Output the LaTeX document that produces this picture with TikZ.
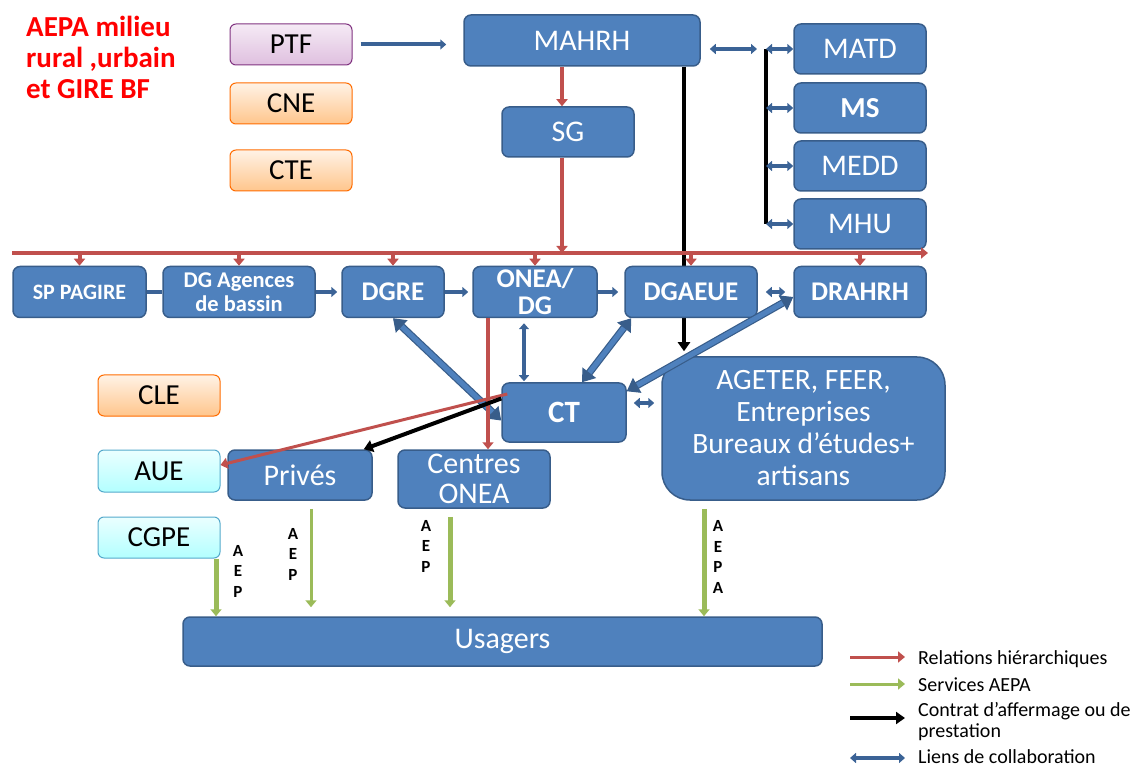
\documentclass[tikz,border=0pt]{standalone}
\usepackage{fontspec}
\setmainfont{Carlito}
\usetikzlibrary{arrows.meta}
\definecolor{boxblue}{HTML}{4F81BD}
\definecolor{boxline}{HTML}{385D8A}
\definecolor{hierred}{HTML}{C0504D}
\definecolor{aepagreen}{HTML}{9BBB59}
\definecolor{collabblue}{HTML}{3B6396}
\pgfdeclarelayer{background}
\pgfsetlayers{background,main}
\begin{document}
\begin{tikzpicture}[x=1pt,y=-1pt,
    sz/.style 2 args={minimum width=#1pt, minimum height=#2pt},
    box/.style={draw=boxline, fill=boxblue, line width=1.5pt, rounded corners=7pt, text=white,
        inner sep=0pt, align=center, font=\fontsize{30}{30}\selectfont},
    rowbox/.style={box, font=\fontsize{27}{27}\selectfont\bfseries},
    purplebox/.style={draw=violet!60!gray, line width=1pt, rounded corners=6pt, top color=violet!8,
        bottom color=violet!25, inner sep=0pt, font=\fontsize{29}{30}\selectfont},
    orangebox/.style={purplebox, draw=orange!85!red, top color=orange!10, bottom color=orange!45},
    cyanbox/.style={purplebox, draw=cyan!60!gray, top color=cyan!8, bottom color=cyan!30},
    hier/.style={draw=hierred, line width=4pt, -{Triangle[length=7pt,width=11pt]}},
    serv/.style={draw=aepagreen, line width=5pt, -{Triangle[length=7pt,width=11pt]}},
    contrat/.style={draw=black, line width=4pt, -{Triangle[length=9pt,width=12pt]}},
    collab/.style={draw=collabblue, line width=4pt, {Triangle[length=6pt,width=10pt]}-{Triangle[length=6pt,width=10pt]}},
    collabone/.style={draw=collabblue, line width=4pt, -{Triangle[length=6pt,width=10pt]}},
    bigcollab/.style={draw=boxline, double=boxblue, line width=1.2pt, double distance=5pt,
        {Triangle[length=12pt,width=17pt]}-{Triangle[length=12pt,width=17pt]}},
    aep/.style={align=center, inner sep=0pt, font=\fontsize{17}{20.5}\selectfont\bfseries},
    legtext/.style={anchor=west, align=left, inner sep=0pt, font=\fontsize{20}{21}\selectfont}]
    \useasboundingbox (0,0) rectangle (1133,767);

    % title
    \node[anchor=north west, align=left, inner sep=0pt, text=red,
        font=\fontsize{29}{31}\selectfont\bfseries] (title) at (26,16)
        {AEPA milieu\\rural ,urbain\\et GIRE BF};

    % top level
    \node[purplebox, sz={122}{41}] (ptf) at (291,44.5) {PTF};
    \node[orangebox, sz={122}{41}] (cne) at (291,103.5) {CNE};
    \node[orangebox, sz={122}{41}] (cte) at (291,170.5) {CTE};
    \node[box, sz={236}{51}] (mahrh) at (582,40.5) {MAHRH};
    \node[box, sz={132}{50}] (sg) at (568,132) {SG};
    \node[box, sz={132}{50}] (matd) at (860,49) {MATD};
    \node[box, sz={132}{50}, font=\fontsize{29}{30}\selectfont\bfseries] (ms) at (860,108) {MS};
    \node[box, sz={132}{50}] (medd) at (860,166) {MEDD};
    \node[box, sz={132}{50}] (mhu) at (860,224) {MHU};

    % directions
    \node[rowbox, sz={133}{51}, font=\fontsize{22}{24}\selectfont\bfseries] (sppagire) at (79.5,292) {SP PAGIRE};
    \node[rowbox, sz={152}{51}, font=\fontsize{22.5}{24}\selectfont\bfseries] (dgagences) at (239,292) {DG Agences\\de bassin};
    \node[rowbox, sz={102}{51}] (dgre) at (393,292) {DGRE};
    \node[rowbox, sz={124}{51}] (oneadg) at (535,292) {ONEA/\\DG};
    \node[rowbox, sz={132}{51}] (dgaeue) at (691,292) {DGAEUE};
    \node[rowbox, sz={132}{51}] (drahrh) at (860,292) {DRAHRH};

    % local level
    \node[box, sz={124}{59}, font=\fontsize{31}{32}\selectfont\bfseries] (ct) at (564,412.5) {CT};
    \node[box, sz={283}{143}, rounded corners=28pt, font=\fontsize{29.5}{32}\selectfont] (ageter) at (803.5,428.5)
        {AGETER, FEER,\\Entreprises\\Bureaux d’études+\\artisans};
    \node[orangebox, sz={122}{41}] (cle) at (159,395.5) {CLE};
    \node[cyanbox, sz={122}{42}] (aue) at (159,471) {AUE};
    \node[cyanbox, sz={122}{41}] (cgpe) at (159,537.5) {CGPE};
    \node[box, sz={144}{50}] (prives) at (300,475) {Privés};
    \node[box, sz={152}{58}] (centres) at (474,479) {Centres\\ONEA};
    \node[box, sz={639}{49}] (usagers) at (502.5,641.5) {Usagers};

    \coordinate (busL) at (12,253);
    \coordinate (busR) at (928,253);
    \coordinate (sgx) at (562,0);
    \coordinate (blackx) at (684,0);
    \coordinate (brT) at (766,49);
    \coordinate (brB) at (766,224);
    \coordinate (oneax) at (524,0);
    \coordinate (redx) at (488,0);
    \coordinate (ctag) at (0,403);

    % hierarchy
    \draw[hier] (sgx |- mahrh.south) -- (sgx |- sg.north);
    \draw[hier] (busL) -- (busR);
    \draw[hier] (sgx |- sg.south) -- (sgx |- busL);
    \foreach \n in {sppagire,dgagences,dgre,oneadg,dgaeue,drahrh}
        \draw[hier] (\n.north |- busL) -- (\n.north);
    \begin{pgfonlayer}{background}
        \draw[contrat, shorten >=5pt] (blackx |- mahrh.south) -- (blackx |- ageter.north);
    \end{pgfonlayer}

    % collaboration
    \draw[collabone, shorten <=8pt, shorten >=17pt] (ptf.east) -- (ptf.east -| mahrh.west);
    \draw[collab, shorten <=9pt, shorten >=9pt] (mahrh.east |- brT) -- (brT);
    \draw[line width=3.5pt] (brT) -- (brB);
    \foreach \m in {matd,ms,medd,mhu}
        \draw[collab] (\m.west -| brT) -- (\m.west);
    \draw[collab, -] (sppagire) -- (dgagences);
    \draw[collabone, shorten >=4pt] (dgagences) -- (dgre);
    \draw[collabone, shorten >=4pt] (dgre) -- (oneadg);
    \draw[collabone, shorten >=6pt] (oneadg) -- (dgaeue);
    \draw[collab, shorten <=8pt, shorten >=8pt] (dgaeue) -- (drahrh);
    \draw[bigcollab] (dgre.south) -- ([yshift=-8pt]ct.west);
    \draw[bigcollab] ([xshift=7pt]dgaeue.south west) -- ([xshift=18pt]ct.north);
    \draw[bigcollab] ([yshift=-9pt]ct.north east) -- ([yshift=-5pt]drahrh.west);
    \draw[collab, shorten <=5pt, shorten >=1pt] (oneax |- oneadg.south) -- (oneax |- ct.north);
    \draw[collab, shorten <=7pt, shorten >=7pt] (ct.east |- ctag) -- (ageter.west |- ctag);

    % hierarchy and contracts below
    \draw[hier] (redx |- oneadg.south) -- (redx |- centres.north);
    \draw[hier, line width=3pt] ([shift={(6pt,18.5pt)}]ct.west) -- ([yshift=6pt]aue.east);
    \draw[contrat] ([yshift=14pt]ct.west) -- ([xshift=-9pt]prives.north east);

    % services
    \coordinate (g1) at (216,0);
    \coordinate (g2) at (311,0);
    \coordinate (g3) at (450,0);
    \coordinate (g4) at (704,0);
    \draw[serv] (g1 |- cgpe.south) -- (g1 |- usagers.north);
    \draw[serv, line width=3pt, shorten <=8pt, shorten >=9pt] (g2 |- prives.south) -- (g2 |- usagers.north);
    \draw[serv, shorten <=8pt, shorten >=9pt] (g3 |- centres.south) -- (g3 |- usagers.north);
    \draw[serv, shorten <=8pt] (g4 |- ageter.south) -- (g4 |- usagers.north);
    \node[aep] (aep1) at (238,571) {A\\E\\P};
    \node[aep] (aep2) at (293,554) {A\\E\\P};
    \node[aep] (aep3) at (426,546) {A\\E\\P};
    \node[aep] (aep4) at (718,557) {A\\E\\P\\A};

    % legend
    \coordinate (lgRa) at (850,657);
    \coordinate (lgRb) at (905,657);
    \coordinate (lgGa) at (850,684);
    \coordinate (lgGb) at (905,684);
    \coordinate (lgBa) at (850,718);
    \coordinate (lgBb) at (905,718);
    \coordinate (lgCa) at (850,758);
    \coordinate (lgCb) at (905,758);
    \draw[hier, line width=3pt] (lgRa) -- (lgRb);
    \draw[serv, line width=3pt] (lgGa) -- (lgGb);
    \draw[contrat] (lgBa) -- (lgBb);
    \draw[collab] (lgCa) -- (lgCb);
    \node[legtext] (lgR) at (918,659) {Relations hiérarchiques};
    \node[legtext] (lgG) at (918,685) {Services AEPA};
    \node[legtext] (lgB) at (918,722) {Contrat d’affermage ou de\\prestation};
    \node[legtext] (lgC) at (918,757) {Liens de collaboration};
\end{tikzpicture}
\end{document}
